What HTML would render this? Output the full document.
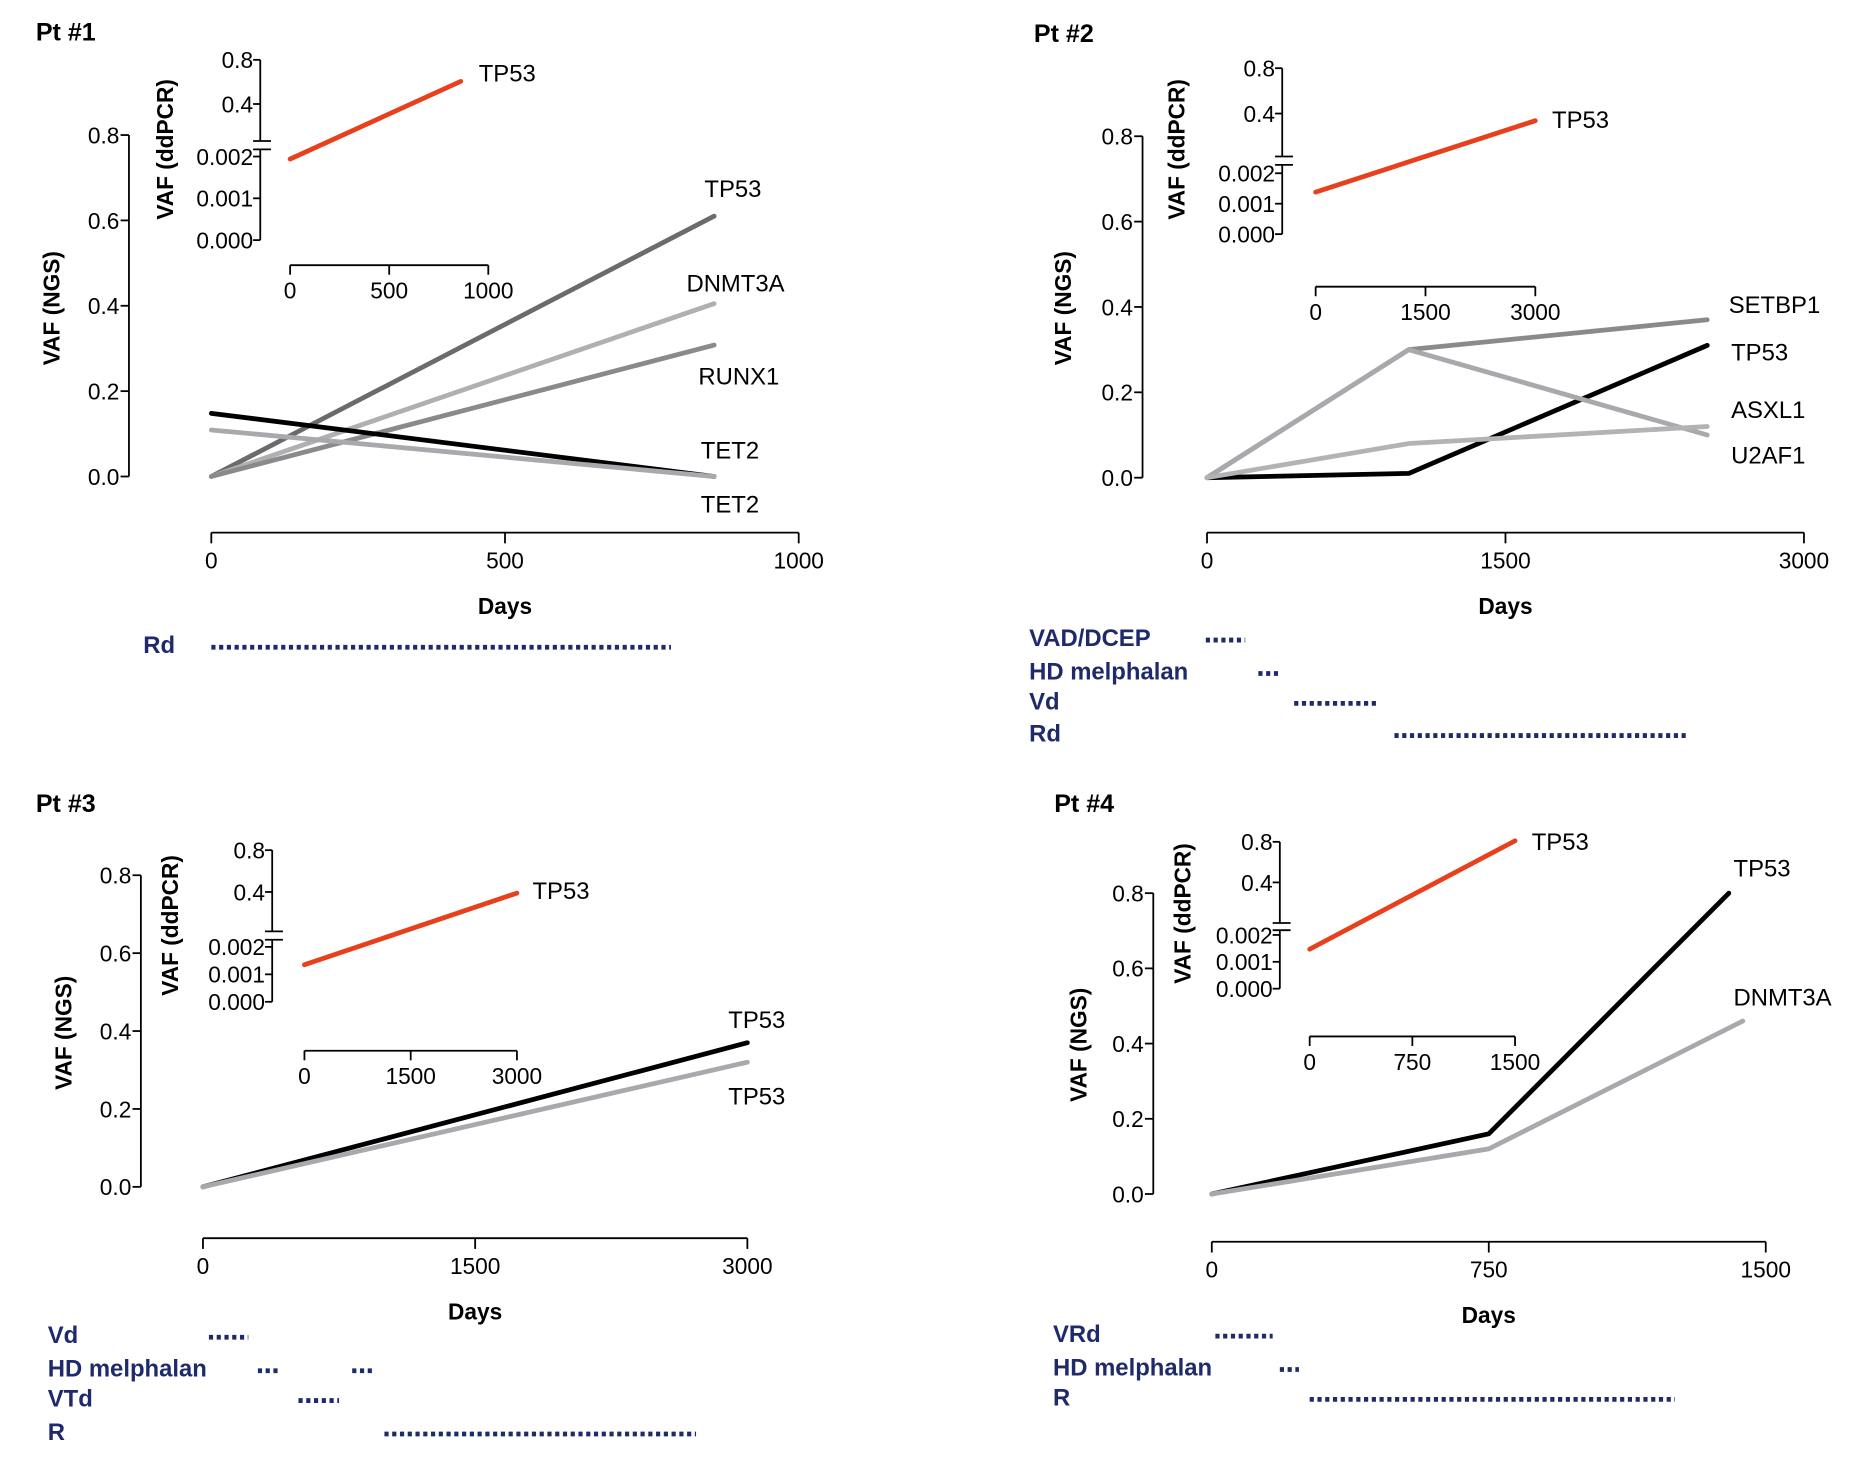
<!DOCTYPE html>
<html><head><meta charset="utf-8"><style>
html,body{margin:0;padding:0;background:#fff}
svg{display:block}
text{font-family:"Liberation Sans",Arial,sans-serif}
</style></head><body>
<svg id="fig" width="1872" height="1458" viewBox="0 0 1568 1221" xmlns="http://www.w3.org/2000/svg"></svg>
<script>
// ---------- data ----------
const p1Genes = ["TP53","DNMT3A","RUNX1","TET2","TET2"];
const p1Days = [[0,856],[0,856],[0,856],[0,856],[0,856]];
const p1Vaf = [[0,0.61],[0,0.405],[0,0.308],[0.148,0],[0.109,0]];
const p1Ddpcr = [0.00194,0.605];
const p1DdDays = [0,861];
const p2Genes = ["SETBP1","TP53","ASXL1","U2AF1"];
const p2Days = [[0,1014,2514],[0,1014,2514],[0,1014,2514],[0,1014,2514]];
const p2Vaf = [[0,0.30,0.37],[0,0.01,0.31],[0,0.30,0.10],[0,0.08,0.12]];
const p2Ddpcr = [0.00138,0.337];
const p2DdDays = [0,3000];
const p3Genes = ["TP53","TP53"];
const p3Days = [[0,3000],[0,3000]];
const p3Vaf = [[0,0.37],[0,0.32]];
const p3Ddpcr = [0.00135,0.389];
const p3DdDays = [0,3000];
const p4Genes = ["TP53","DNMT3A"];
const p4Days = [[0,750,1400],[0,750,1438]];
const p4Vaf = [[0,0.16,0.80],[0,0.12,0.46]];
const p4Ddpcr = [0.00147,0.81];
const p4DdDays = [0,1500];
const yTicks = [0,0.2,0.4,0.6,0.8];
const yTickLabels = ["0.0","0.2","0.4","0.6","0.8"];
const insetLowTicks = [0,0.001,0.002];
const insetLowLabels = ["0.000","0.001","0.002"];
const insetHighTicks = [0.4,0.8];
const insetHighLabels = ["0.4","0.8"];

const NS="http://www.w3.org/2000/svg";
const svg=document.getElementById('fig');
function mk(tag,attrs,parent,txt){const e=document.createElementNS(NS,tag);for(const k in attrs)e.setAttribute(k,attrs[k]);if(txt!==undefined)e.textContent=txt;(parent||svg).appendChild(e);return e;}

function panel(cfg){
  const g=mk('g',{});
  
  
  const t=mk('text',{x:cfg.title[0],y:cfg.title[1],'font-size':21,'font-weight':'bold'},g,cfg.titleText);
  
  
  const yS=v=>cfg.y0-(v/0.8)*(cfg.y0-cfg.y8);
  const xS=d=>cfg.x0+d/cfg.xMax*(cfg.x1-cfg.x0);
  const ya=mk('g',{},g);
  
  
  mk('line',{x1:cfg.ax,x2:cfg.ax,y1:yS(0.8),y2:yS(0),stroke:'#000','stroke-width':1.5},ya);
  yTicks.forEach((v,i)=>{
    mk('line',{x1:cfg.ax-7,x2:cfg.ax,y1:yS(v),y2:yS(v),stroke:'#000','stroke-width':1.5},ya);
    const l=mk('text',{x:cfg.ax-8,y:yS(v)+7,'font-size':19,'text-anchor':'end'},ya,yTickLabels[i]);
    
    
  });
  const yt=mk('text',{x:0,y:0,'font-size':19,'font-weight':'bold','text-anchor':'middle',transform:`translate(${cfg.ytx},${cfg.yty}) rotate(-90)`},g,'VAF (NGS)');
  
  
  const xa=mk('g',{},g);
  
  
  mk('line',{x1:cfg.x0,x2:cfg.x1,y1:cfg.xay,y2:cfg.xay,stroke:'#000','stroke-width':1.5},xa);
  cfg.xTicks.forEach(v=>{
    mk('line',{x1:xS(v),x2:xS(v),y1:cfg.xay,y2:cfg.xay+9,stroke:'#000','stroke-width':1.5},xa);
    const l=mk('text',{x:xS(v),y:cfg.xay+30,'font-size':19,'text-anchor':'middle'},xa,String(v));
    
    
  });
  const dx=mk('text',{x:(cfg.x0+cfg.x1)/2,y:cfg.xay+68,'font-size':19,'font-weight':'bold','text-anchor':'middle'},g,'Days');
  
  
  cfg.genes.forEach((gn,i)=>{
    const pts=cfg.days[i].map((d,j)=>xS(d)+','+yS(cfg.vaf[i][j])).join(' ');
    const pl=mk('polyline',{points:pts,fill:'none',stroke:cfg.colors[i],'stroke-width':4,'stroke-linecap':'round','stroke-linejoin':'round'},g);
    
    
    const lb=mk('text',{x:cfg.labels[i][0],y:cfg.labels[i][1]+7,'font-size':20},g,gn);
    
    
  });
  const I=cfg.inset;
  const ig=mk('g',{},g);
  
  
  const iyS=v=> v<0.01 ? I.l0-(v/0.002)*(I.l0-I.l2) : I.u4-((v-0.4)/0.4)*(I.u4-I.u8);
  const ixS=d=>I.x0+d/I.xMax*(I.x1-I.x0);
  mk('line',{x1:I.ax,x2:I.ax,y1:I.u8,y2:I.bu,stroke:'#000','stroke-width':1.5},ig);
  mk('line',{x1:I.ax,x2:I.ax,y1:I.bl,y2:I.l0,stroke:'#000','stroke-width':1.5},ig);
  mk('line',{x1:I.ax-6,x2:I.ax+9,y1:I.bu,y2:I.bu,stroke:'#000','stroke-width':1.5},ig);
  mk('line',{x1:I.ax-6,x2:I.ax+9,y1:I.bl,y2:I.bl,stroke:'#000','stroke-width':1.5},ig);
  insetLowTicks.forEach((v,i)=>{
    mk('line',{x1:I.ax-6,x2:I.ax,y1:iyS(v),y2:iyS(v),stroke:'#000','stroke-width':1.5},ig);
    const l=mk('text',{x:I.ax-6,y:iyS(v)+7,'font-size':19,'text-anchor':'end'},ig,insetLowLabels[i]);
    
    
  });
  insetHighTicks.forEach((v,i)=>{
    mk('line',{x1:I.ax-6,x2:I.ax,y1:iyS(v),y2:iyS(v),stroke:'#000','stroke-width':1.5},ig);
    const l=mk('text',{x:I.ax-6,y:iyS(v)+7,'font-size':19,'text-anchor':'end'},ig,insetHighLabels[i]);
    
    
  });
  const it=mk('text',{x:0,y:0,'font-size':19,'font-weight':'bold','text-anchor':'middle',transform:`translate(${I.ytx},${I.yty}) rotate(-90)`},ig,'VAF (ddPCR)');
  
  
  mk('line',{x1:I.x0,x2:I.x1,y1:I.xay,y2:I.xay,stroke:'#000','stroke-width':1.5},ig);
  I.xTicks.forEach(v=>{
    mk('line',{x1:ixS(v),x2:ixS(v),y1:I.xay,y2:I.xay+8,stroke:'#000','stroke-width':1.5},ig);
    const l=mk('text',{x:ixS(v),y:I.xay+28,'font-size':19,'text-anchor':'middle'},ig,String(v));
    
    
  });
  const rl=mk('line',{x1:ixS(I.days[0]),y1:iyS(I.vals[0]),x2:ixS(I.days[1]),y2:iyS(I.vals[1]),stroke:'#e8401c','stroke-width':4,'stroke-linecap':'round'},ig);
  
  
  const rlb=mk('text',{x:I.lab[0],y:I.lab[1]+7,'font-size':20},ig,'TP53');
  
  
  cfg.treat.forEach(tr=>{
    const l=mk('text',{x:cfg.tx,y:tr[1]+7,'font-size':20,'font-weight':'bold',fill:'#1f2a6b'},g,tr[0]);
    
    
    for(let k=2;k<tr.length;k+=2){
      const d=mk('line',{x1:tr[k],x2:tr[k+1],y1:tr[1]+2,y2:tr[1]+2,stroke:'#1f2a6b','stroke-width':4,'stroke-dasharray':'3.5 3'},g);
      
      
    }
  });
}

panel({id:'panel-pt1',titleText:'Pt #1',title:[30,34],ax:108,y0:399,y8:113,ytx:50,yty:258,
  x0:177,x1:669,xMax:1000,xay:446,xTicks:[0,500,1000],
  genes:p1Genes,days:p1Days,vaf:p1Vaf,colors:['#6b6b6b','#b0b0b3','#8a8a8c','#000','#a9a9ad'],
  labels:[[590,158],[575,237],[585,315],[587,377],[587,422]],
  inset:{ax:218,u8:50,u4:87,bu:118,bl:125,l2:131,l0:201,ytx:145,yty:125,x0:243,x1:409,xMax:1000,xay:222,xTicks:[0,500,1000],days:p1DdDays,vals:p1Ddpcr,lab:[401,61]},
  tx:120,treat:[['Rd',540,177,562]]});
panel({id:'panel-pt2',titleText:'Pt #2',title:[866,35],ax:957,y0:400,y8:114,ytx:897,yty:258,
  x0:1011,x1:1511,xMax:3000,xay:446,xTicks:[0,1500,3000],
  genes:p2Genes,days:p2Days,vaf:p2Vaf,colors:['#8a8a8c','#000','#a9a9ad','#b3b3b6'],
  labels:[[1448,255],[1450,295],[1450,343],[1450,381]],
  inset:{ax:1074,u8:57,u4:95,bu:131,bl:138,l2:145,l0:196,ytx:992,yty:125,x0:1102,x1:1286,xMax:3000,xay:240,xTicks:[0,1500,3000],days:p2DdDays,vals:p2Ddpcr,lab:[1300,100]},
  tx:862,treat:[['VAD/DCEP',534,1010,1043],['HD melphalan',562,1054,1072],['Vd',587,1084,1155],['Rd',614,1168,1414]]});
panel({id:'panel-pt3',titleText:'Pt #3',title:[30,680],ax:118,y0:994,y8:733,ytx:60,yty:865,
  x0:170,x1:626,xMax:3000,xay:1037,xTicks:[0,1500,3000],
  genes:p3Genes,days:p3Days,vaf:p3Vaf,colors:['#000','#a9a9ad'],
  labels:[[610,854],[610,918]],
  inset:{ax:228,u8:712,u4:747,bu:780,bl:787,l2:793,l0:839,ytx:149,yty:775,x0:255,x1:433,xMax:3000,xay:880,xTicks:[0,1500,3000],days:p3DdDays,vals:p3Ddpcr,lab:[446,746]},
  tx:40,treat:[['Vd',1118,175,208],['HD melphalan',1146,216,234,295,313],['VTd',1171,250,284],['R',1199,322,583]]});
panel({id:'panel-pt4',titleText:'Pt #4',title:[883,680],ax:966,y0:1000,y8:748,ytx:910,yty:875,
  x0:1015,x1:1479,xMax:1500,xay:1040,xTicks:[0,750,1500],
  genes:p4Genes,days:p4Days,vaf:p4Vaf,colors:['#000','#a9a9ad'],
  labels:[[1452,727],[1452,835]],
  inset:{ax:1072,u8:705,u4:739,bu:773,bl:779,l2:783,l0:828,ytx:997,yty:765,x0:1097,x1:1269,xMax:1500,xay:868,xTicks:[0,750,1500],days:p4DdDays,vals:p4Ddpcr,lab:[1283,705]},
  tx:882,treat:[['VRd',1117,1018,1066],['HD melphalan',1145,1072,1088],['R',1170,1097,1403]]});
</script>
</body></html>
